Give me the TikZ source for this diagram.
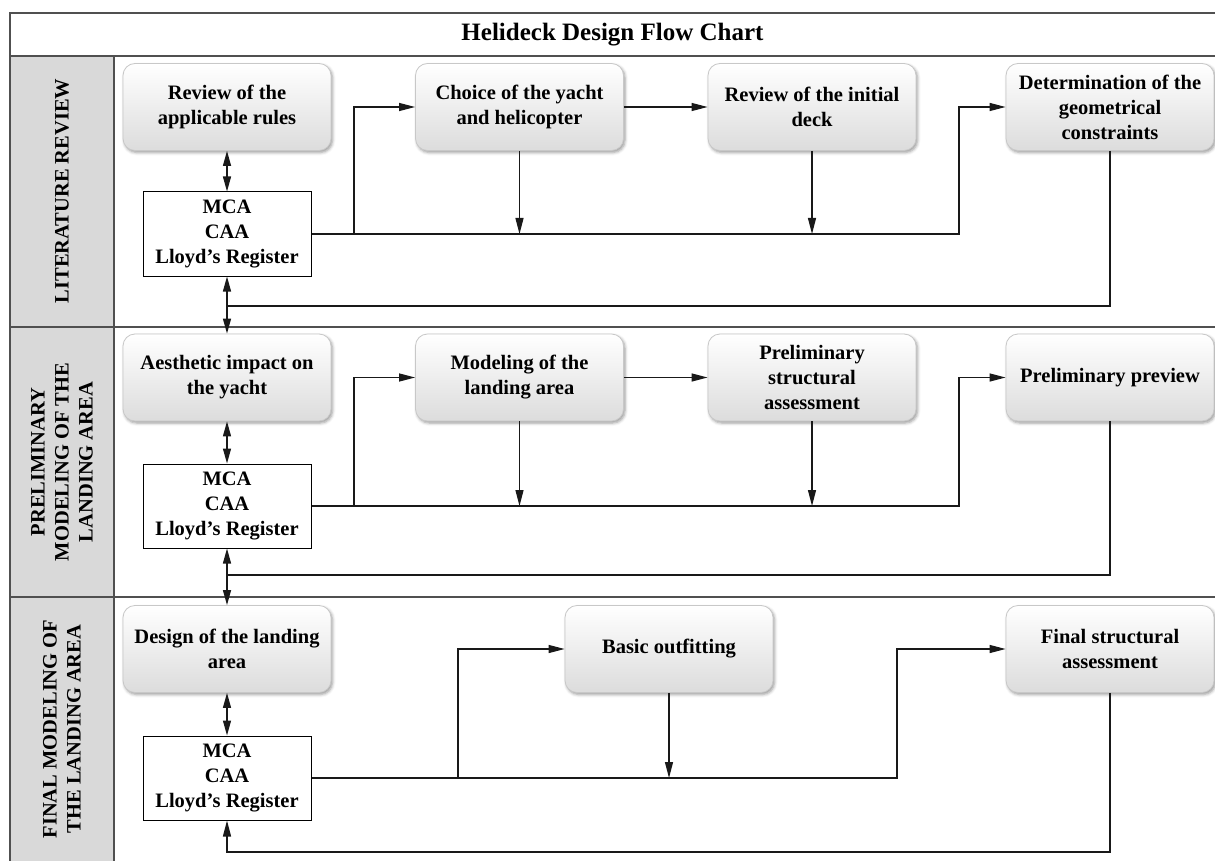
\documentclass[tikz,border=0pt]{standalone}
\usepackage{fontspec}
\setmainfont{Liberation Serif}
\usetikzlibrary{arrows.meta,shadows.blur}
\definecolor{frame}{HTML}{505050}
\definecolor{lanefill}{HTML}{D9D9D9}
\definecolor{boxline}{HTML}{C8C8C8}
\definecolor{boxbot}{HTML}{DCDCDC}
\tikzset{
  stepbox/.style={draw=boxline, line width=0.8pt, rounded corners=12pt,
    top color=white, bottom color=boxbot,
    minimum width=208pt, minimum height=87pt, align=center, inner sep=2pt,
    font=\bfseries\fontsize{20.5}{25}\selectfont,
    blur shadow={shadow xshift=1.5pt, shadow yshift=-2pt, shadow blur radius=3pt}},
  regbox/.style={draw=black, line width=1pt, fill=white,
    minimum width=168pt, minimum height=84pt, align=center, inner sep=2pt,
    font=\bfseries\fontsize{20.5}{25}\selectfont},
  lanetext/.style={rotate=90, align=center, font=\bfseries\fontsize{20.5}{24}\selectfont},
  titletext/.style={font=\bfseries\fontsize{25}{30}\selectfont},
  frameline/.style={draw=frame, line width=1.6pt},
  link/.style={draw=black!90, line width=1.25pt},
  arr/.style={link, -{Triangle[length=16pt,width=8pt]}},
  darr/.style={link, {Triangle[length=15pt,width=8pt]}-{Triangle[length=15pt,width=8pt]}},
}
\begin{document}
\begin{tikzpicture}[x=1pt,y=-1pt]
\useasboundingbox (0,0) rectangle (1215,861);
% frame
\fill[lanefill] (10,56) rectangle (114,861);
\draw[frameline] (1215,13) -- (10,13) -- (10,861);
\draw[frameline] (10,56) -- (1215,56);
\draw[frameline] (10,327) -- (1215,327);
\draw[frameline] (10,597) -- (1215,597);
\draw[frameline] (114,56) -- (114,861);
\node[titletext] (T) at (612.5,34.5) {Helideck Design Flow Chart};
\node[lanetext] (L1) at (62,191) {LITERATURE REVIEW};
\node[lanetext] (L2) at (62,462) {PRELIMINARY\\MODELING OF THE\\LANDING AREA};
\node[lanetext] (L3) at (62,729) {FINAL MODELING OF\\THE LANDING AREA};
% helper coordinates
\coordinate (xa) at (354,0);
\coordinate (xb) at (959,0);
\coordinate (xc) at (458,0);
\coordinate (xd) at (897,0);
\coordinate (y1) at (0,306);
\coordinate (y2) at (0,575);
\coordinate (y3) at (0,852);
% lane 1
\node[stepbox] (R1) at (227,107) {Review of the\\applicable rules};
\node[stepbox] (C1) at (519.5,107) {Choice of the yacht\\and helicopter};
\node[stepbox] (V1) at (812,107) {Review of the initial\\deck};
\node[stepbox] (D1) at (1110,107) {Determination of the\\geometrical\\constraints};
\node[regbox] (M1) at (227,234) {MCA\\CAA\\Lloyd’s Register};
% lane 2
\node[stepbox] (A2) at (227,377.5) {Aesthetic impact on\\the yacht};
\node[stepbox] (O2) at (519.5,377.5) {Modeling of the\\landing area};
\node[stepbox] (P2) at (812,377.5) {Preliminary\\structural\\assessment};
\node[stepbox] (Q2) at (1110,377.5) {Preliminary preview};
\node[regbox] (M2) at (227,506) {MCA\\CAA\\Lloyd’s Register};
% lane 3
\node[stepbox] (G3) at (227,649) {Design of the landing\\area};
\node[stepbox] (B3) at (669,649) {Basic outfitting};
\node[stepbox] (F3) at (1110,649) {Final structural\\assessment};
\node[regbox] (M3) at (227,778) {MCA\\CAA\\Lloyd’s Register};
% connectors lane 1
\draw[darr] (R1.south) -- (M1.north);
\draw[arr] (M1.east) -- (M1.east -| xb) |- (D1.west);
\draw[arr] (M1.east -| xa) |- (C1.west);
\draw[arr] (C1.east) -- (V1.west);
\draw[arr] (C1.south) -- (C1.south |- M1.east);
\draw[arr] (V1.south) -- (V1.south |- M1.east);
\draw[link] (D1.south) |- (M1.south |- y1);
\draw[darr] (M1.south) -- (A2.north);
% connectors lane 2
\draw[darr] (A2.south) -- (M2.north);
\draw[arr] (M2.east) -- (M2.east -| xb) |- (Q2.west);
\draw[arr] (M2.east -| xa) |- (O2.west);
\draw[arr] (O2.east) -- (P2.west);
\draw[arr] (O2.south) -- (O2.south |- M2.east);
\draw[arr] (P2.south) -- (P2.south |- M2.east);
\draw[link] (Q2.south) |- (M2.south |- y2);
\draw[darr] (M2.south) -- (G3.north);
% connectors lane 3
\draw[darr] (G3.south) -- (M3.north);
\draw[arr] (M3.east) -- (M3.east -| xd) |- (F3.west);
\draw[arr] (M3.east -| xc) |- (B3.west);
\draw[arr] (B3.south) -- (B3.south |- M3.east);
\draw[arr] (F3.south) |- (M3.south |- y3) -- (M3.south);
\end{tikzpicture}
\end{document}
